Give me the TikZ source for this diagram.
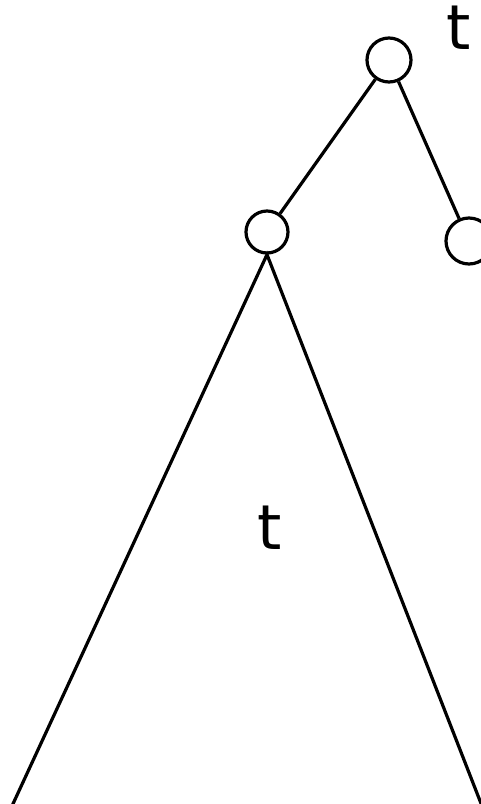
\documentclass[tikz,border=0pt]{standalone}
\usepackage{fontspec}
\setmainfont{DejaVu Sans}
\usetikzlibrary{positioning,calc}
\definecolor{ink}{HTML}{000000}
\tikzset{
  treenode/.style={draw=ink,circle,line width=3.2pt,minimum width=40pt,
                   minimum height=44pt,inner sep=0pt},
  edge/.style={draw=ink,line width=3.2pt},
  treelabel/.style={font=\fontsize{62}{62}\selectfont,text=ink,inner sep=0pt}
}
\begin{document}
\begin{tikzpicture}[x=1pt,y=-1pt]
    \useasboundingbox (0,0) rectangle (481,804);
    \clip (0,0) rectangle (481,804);
    % the three nodes
    \node[treenode] (root) at (389,60) {};
    \node[treenode,minimum height=42pt] (lchild) at (267,232) {};
    \node[treenode,minimum width=44pt,minimum height=46pt] (rchild) at (469,241) {};
    \draw[edge] (root) -- (lchild);
    \draw[edge] (root) -- (rchild);
    % subtree below the left child
    \coordinate (lfoot) at (12,806);
    \coordinate (rfoot) at (482,806);
    \draw[edge] (lfoot) -- (lchild.south) -- (rfoot);
    % labels
    \node[treelabel] (toplabel) at (459,28) {t};
    \node[treelabel] (sublabel) at (270,528) {t};
  \end{tikzpicture}
\end{document}
